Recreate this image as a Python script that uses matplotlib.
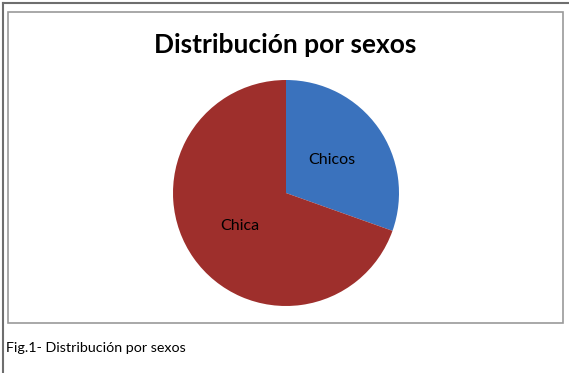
import matplotlib
matplotlib.use('Agg')
import matplotlib.pyplot as plt
from matplotlib.patches import Rectangle
from matplotlib.lines import Line2D

labels = ['Chicos', 'Chica']
values = [7, 16]
colors = ['#3a72bd', '#9e2f2c']

W, H = 569, 373
fig = plt.figure(figsize=(W / 100, H / 100), dpi=100)

def fx(px):
    return px / W

def fy(py):
    return 1 - py / H

# outer page lines
fig.add_artist(Line2D([fx(3), fx(3)], [fy(3), 0], color='#6e6e6e', lw=1.5))
fig.add_artist(Line2D([fx(3), 1], [fy(3), fy(3)], color='#6e6e6e', lw=1.5))

# chart frame
fig.add_artist(Rectangle((fx(8), fy(323)), fx(563) - fx(8), fy(12) - fy(323),
                         fill=False, edgecolor='#9a9a9a', lw=1.2))

fig.text(fx(285), fy(45), 'Distribución por sexos', ha='center', va='center',
         fontsize=19, fontweight='bold', family=['Lato', 'DejaVu Sans'])

cx, cy, r = 286, 193, 113
ax = fig.add_axes([fx(cx - r), fy(cy + r), (2 * r) / W, (2 * r) / H])
wedges, texts = ax.pie(values, labels=labels, colors=colors, startangle=90,
                       counterclock=False, labeldistance=0.5,
                       wedgeprops=dict(linewidth=0),
                       textprops=dict(fontsize=11.5, color='black',
                                      family=['Lato', 'DejaVu Sans']))
for t in texts:
    t.set_ha('center')
ax.set_xlim(-1, 1)
ax.set_ylim(-1, 1)
ax.set_aspect('equal')
ax.axis('off')

fig.text(fx(6), fy(348), 'Fig.1- Distribución por sexos', ha='left', va='center',
         fontsize=10.3, family=['Lato', 'DejaVu Sans'])

fig.savefig('out.png', dpi=100)
